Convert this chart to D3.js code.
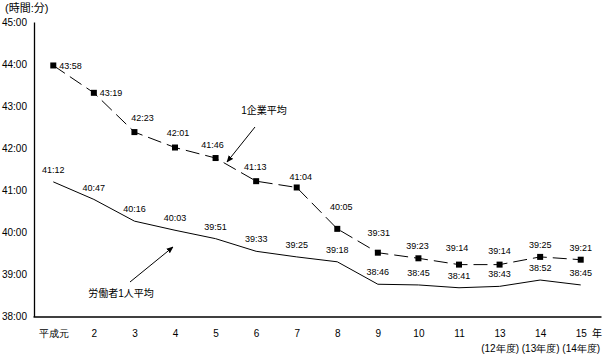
<!DOCTYPE html>
<html>
<head>
<meta charset="utf-8">
<script src="https://cdn.jsdelivr.net/npm/d3@7"></script>
<style>
  html, body { margin: 0; padding: 0; background: #fff; }
  svg { display: block; font-family: "Liberation Sans", Arial, "Noto Sans CJK JP", sans-serif; }
</style>
</head>
<body>
<div id="chart"></div>
<script>
// ---- data ----
const categories = ["平成元", "2", "3", "4", "5", "6", "7", "8", "9", "10", "11", "13", "14", "15"];
const subLabels  = ["", "", "", "", "", "", "", "", "", "", "", "(12年度)", "(13年度)", "(14年度)"];
const perCompany = ["43:58", "43:19", "42:23", "42:01", "41:46", "41:13", "41:04", "40:05", "39:31", "39:23", "39:14", "39:14", "39:25", "39:21"];
const perWorker  = ["41:12", "40:47", "40:16", "40:03", "39:51", "39:33", "39:25", "39:18", "38:46", "38:45", "38:41", "38:43", "38:52", "38:45"];
const yTickLabels = ["38:00", "39:00", "40:00", "41:00", "42:00", "43:00", "44:00", "45:00"];
const seriesNames = ["1企業平均", "労働者1人平均"];
const unitLabel = "(時間:分)";
const xUnit = "年";

// ---- layout (label nudges, not data) ----
const companyLabelDx = [0, 0, 8, 3, -3, -1, 4, 4, 1, -1, -2, 0, 0, 0];
const companyLabelDy = [0, 0, -14, -15, -13, -14, -11, -22, -20, -12, -17, -14, -12, -12];

const W = 608, H = 354;
const toHours = s => { const [h, m] = s.split(":").map(Number); return h + m / 60; };

const svg = d3.select("#chart").append("svg").attr("width", W).attr("height", H);

const x = d3.scalePoint().domain(categories).range([33, 601]).padding(0.5);
const y = d3.scaleLinear().domain([38, 45]).range([316.5, 22]);

// y axis
const yAxis = d3.axisLeft(y)
  .tickValues(yTickLabels.map(toHours))
  .tickFormat((d, i) => yTickLabels[i])
  .tickSize(0).tickPadding(7);
const gy = svg.append("g").attr("transform", "translate(34,0)").call(yAxis);
gy.select(".domain").attr("stroke", "#000").attr("stroke-width", 1.3);
gy.selectAll("text").attr("font-size", 10).attr("fill", "#000")
  .attr("font-family", "'Liberation Sans', Arial, sans-serif");

// x axis
const xAxis = d3.axisBottom(x).tickSize(0).tickSizeOuter(0).tickPadding(13);
const gx = svg.append("g").attr("transform", `translate(0,${y(38)})`).call(xAxis);
gx.select(".domain").attr("stroke", "#000").attr("stroke-width", 1.3);
gx.selectAll("text").attr("font-size", 10).attr("fill", "#000");
gx.selectAll(".tick").append("text")
  .attr("y", 28).attr("dy", "0.71em")
  .attr("text-anchor", "middle").attr("font-size", 10).attr("fill", "#000")
  .text((d, i) => subLabels[i]);

svg.append("text").attr("x", 597).attr("y", y(38) + 13).attr("dy", "0.71em")
  .attr("text-anchor", "middle").attr("font-size", 10).text(xUnit);

// unit label
svg.append("text").attr("x", 5).attr("y", 12).attr("font-size", 11).text(unitLabel);

const line = d3.line().x((d, i) => x(categories[i])).y(d => y(toHours(d)));

// per-company (dashed, square markers)
svg.append("path").datum(perCompany).attr("d", line)
  .attr("fill", "none").attr("stroke", "#000").attr("stroke-width", 1)
  .attr("stroke-dasharray", "14,6");
svg.selectAll("rect.m").data(perCompany).enter().append("rect").attr("class", "m")
  .attr("x", (d, i) => x(categories[i]) - 3).attr("y", d => y(toHours(d)) - 3)
  .attr("width", 6).attr("height", 6).attr("fill", "#000");
svg.selectAll("text.lc").data(perCompany).enter().append("text").attr("class", "lc")
  .attr("x", (d, i) => i < 2 ? x(categories[i]) + 6 : x(categories[i]) + companyLabelDx[i])
  .attr("y", (d, i) => y(toHours(d)) + companyLabelDy[i])
  .attr("dy", "0.35em")
  .attr("text-anchor", (d, i) => i < 2 ? "start" : "middle")
  .attr("font-size", 9).text(d => d);

// per-worker (solid line)
svg.append("path").datum(perWorker).attr("d", line)
  .attr("fill", "none").attr("stroke", "#000").attr("stroke-width", 1);
svg.selectAll("text.lw").data(perWorker).enter().append("text").attr("class", "lw")
  .attr("x", (d, i) => x(categories[i]))
  .attr("y", d => y(toHours(d)) - 12)
  .attr("dy", "0.35em").attr("text-anchor", "middle")
  .attr("font-size", 9).text(d => d);

// annotations
const defs = svg.append("defs");
defs.append("marker").attr("id", "ah").attr("viewBox", "0 0 10 10")
  .attr("refX", 9).attr("refY", 5).attr("markerWidth", 7).attr("markerHeight", 7)
  .attr("markerUnits", "userSpaceOnUse").attr("orient", "auto")
  .append("path").attr("d", "M0,1 L10,5 L0,9 Z").attr("fill", "#000");

svg.append("text").attr("x", 264).attr("y", 110).attr("dy", "0.35em")
  .attr("text-anchor", "middle").attr("font-size", 10).text(seriesNames[0]);
svg.append("line").attr("x1", 255).attr("y1", 127).attr("x2", 227).attr("y2", 162)
  .attr("stroke", "#000").attr("stroke-width", 1).attr("marker-end", "url(#ah)");

svg.append("text").attr("x", 121).attr("y", 293).attr("dy", "0.35em")
  .attr("text-anchor", "middle").attr("font-size", 10).text(seriesNames[1]);
svg.append("line").attr("x1", 130).attr("y1", 282).attr("x2", 173).attr("y2", 247)
  .attr("stroke", "#000").attr("stroke-width", 1).attr("marker-end", "url(#ah)");
</script>
</body>
</html>
